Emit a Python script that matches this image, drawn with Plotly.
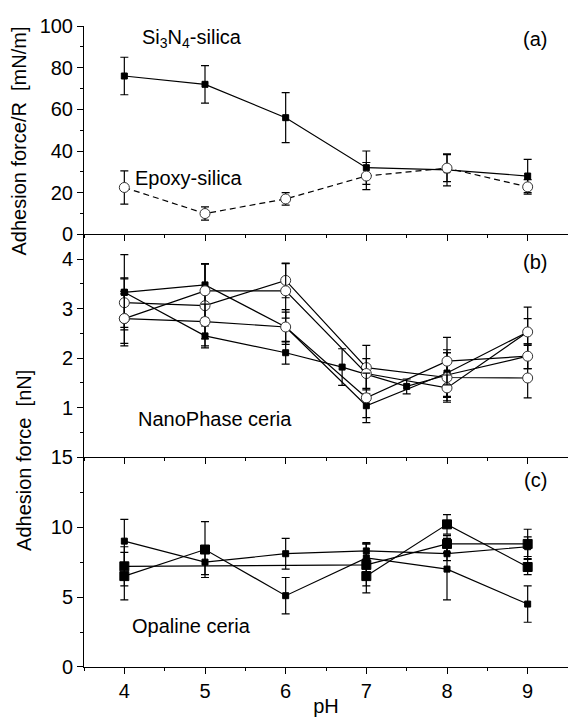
import plotly.graph_objects as go
from plotly.subplots import make_subplots

# ---------------- data ----------------
pH = [4, 5, 6, 7, 8, 9]

# panel (a)  Adhesion force/R [mN/m]
si3n4_silica = [76, 72, 56, 32, 31, 28]
si3n4_err = [9, 9, 12, 8, 7.7, 8]
epoxy_silica = [22.5, 10, 17, 28, 31.8, 22.8]
epoxy_err = [8, 3.2, 3, 6.5, 6.5, 3.5]

# panel (b)  NanoPhase ceria [nN]
nano_sq1 = [3.33, 3.48, 2.63, 1.04, 1.70, 2.53]
nano_sq1_err = [0.76, 0.42, 0.35, 0.24, 0.47, 0.27]
nano_sq2_pH = [4, 5, 6, 6.7, 7.5, 8, 9]
nano_sq2 = [3.33, 2.45, 2.11, 1.82, 1.43, 1.66, 2.04]
nano_sq2_err = [0.27, 0.20, 0.23, 0.37, 0.15, 0.45, 0.25]
nano_c1 = [3.12, 3.06, 3.57, 1.81, 1.61, 1.60]
nano_c1_err = [0.50, 0.85, 0.35, 0.45, 0.50, 0.40]
nano_c2 = [2.80, 3.36, 3.36, 1.69, 1.40, 2.53]
nano_c2_err = [0.55, 0.55, 0.55, 0.30, 0.26, 0.50]
nano_c3 = [2.80, 2.74, 2.63, 1.20, 1.94, 2.04]
nano_c3_err = [0.50, 0.35, 0.30, 0.50, 0.48, 0.25]

# panel (c)  Opaline ceria [nN]
opal_s1 = [9.0, 7.5, 8.1, 8.3, 8.1, 8.6]
opal_s1_err = [1.55, 0.9, 1.1, 0.6, 0.5, 0.7]
opal_s2 = [6.5, 8.4, 5.1, 7.8, 7.0, 4.5]
opal_s2_err = [1.7, 2.0, 1.3, 1.0, 2.2, 1.3]
opal_s3_pH = [4, 7, 8, 9]
opal_s3 = [7.2, 7.3, 8.8, 8.8]
opal_s3_err = [1.4, 1.5, 0.6, 1.05]
opal_s4_pH = [7, 8, 9]
opal_s4 = [6.5, 10.2, 7.15]
opal_s4_err = [1.2, 0.7, 0.55]

# ---------------- figure ----------------
FONT = "Arial, Liberation Sans, sans-serif"
FS = 20
fig = make_subplots(rows=3, cols=1, shared_xaxes=True, vertical_spacing=0,
                    row_heights=[208.6, 223.1, 210])


def add(x, y, err, row, symbol, size=6, dash="solid", fill="black", edge="black"):
    fig.add_trace(go.Scatter(
        x=x, y=y, mode="lines+markers",
        line=dict(color="black", width=1.2, dash=dash),
        marker=dict(symbol=symbol, size=size, color=fill, opacity=1,
                    line=dict(color=edge, width=1)),
        error_y=dict(type="data", array=err, visible=True, color="black",
                     thickness=1.2, width=4),
        showlegend=False), row=row, col=1)


# (a)
add(pH, si3n4_silica, si3n4_err, 1, "square", 6)
add(pH, epoxy_silica, epoxy_err, 1, "circle", 10, dash="6px,4px", fill="white", edge="#333")
# (b)
add(pH, nano_sq1, nano_sq1_err, 2, "square", 6)
add(nano_sq2_pH, nano_sq2, nano_sq2_err, 2, "square", 6)
add(pH, nano_c1, nano_c1_err, 2, "circle", 10, fill="white", edge="#333")
add(pH, nano_c2, nano_c2_err, 2, "circle", 10, fill="white", edge="#333")
add(pH, nano_c3, nano_c3_err, 2, "circle", 10, fill="white", edge="#333")
# (c)
add(pH, opal_s1, opal_s1_err, 3, "square", 6)
add(pH, opal_s2, opal_s2_err, 3, "square", [9, 9, 6, 6, 6, 6])
add(opal_s3_pH, opal_s3, opal_s3_err, 3, "square", 9)
add(opal_s4_pH, opal_s4, opal_s4_err, 3, "square", 9)

axis_common = dict(showline=True, linecolor="black", linewidth=1, ticks="outside",
                   ticklen=6, tickwidth=1, tickcolor="black", showgrid=False,
                   zeroline=False, mirror=False,
                   tickfont=dict(family=FONT, size=FS, color="black"))

for r in (1, 2, 3):
    fig.update_xaxes(range=[3.5, 9.5], tickmode="array", tickvals=pH,
                     minor=dict(tickmode="array", tickvals=[3.5, 4.5, 5.5, 6.5, 7.5, 8.5, 9.5],
                                ticklen=3, ticks="outside", tickcolor="black", showgrid=False),
                     row=r, col=1, **axis_common)
fig.update_xaxes(title=dict(text="pH", font=dict(family=FONT, size=FS, color="black"),
                            standoff=0), row=3, col=1)

fig.update_yaxes(range=[0, 100], tickmode="array", tickvals=[0, 20, 40, 60, 80, 100],
                 minor=dict(tickmode="array", tickvals=[10, 30, 50, 70, 90], ticklen=3,
                            ticks="outside", tickcolor="black", showgrid=False),
                 row=1, col=1, **axis_common)
fig.update_yaxes(range=[0, 4.5], tickmode="array", tickvals=[1, 2, 3, 4],
                 minor=dict(tickmode="array", tickvals=[0.5, 1.5, 2.5, 3.5], ticklen=3,
                            ticks="outside", tickcolor="black", showgrid=False),
                 row=2, col=1, **axis_common)
fig.update_yaxes(range=[0, 15], tickmode="array", tickvals=[0, 5, 10, 15],
                 minor=dict(tickmode="array", tickvals=[2.5, 7.5, 12.5], ticklen=3,
                            ticks="outside", tickcolor="black", showgrid=False),
                 row=3, col=1, **axis_common)

afont = dict(family=FONT, size=FS, color="black")
notes = [
    ("x", "y", 4.19, 94, "Si<sub>3</sub>N<sub>4</sub>-silica", "left"),
    ("x", "y", 9.26, 94, "(a)", "right"),
    ("x", "y", 4.11, 27, "Epoxy-silica", "left"),
    ("x2", "y2", 9.26, 3.95, "(b)", "right"),
    ("x2", "y2", 4.15, 0.78, "NanoPhase ceria", "left"),
    ("x3", "y3", 9.26, 13.4, "(c)", "right"),
    ("x3", "y3", 4.07, 2.9, "Opaline ceria", "left"),
]
for xr, yr, x, y, t, anc in notes:
    fig.add_annotation(xref=xr, yref=yr, x=x, y=y, text=t, showarrow=False,
                       xanchor=anc, yanchor="middle", font=afont)

fig.add_annotation(xref="paper", yref="paper", x=-0.134, y=0.82,
                   text="Adhesion force/R  [mN/m]", textangle=-90, showarrow=False,
                   xanchor="center", yanchor="middle", font=afont)
fig.add_annotation(xref="paper", yref="paper", x=-0.124, y=0.323,
                   text="Adhesion force  [nN]", textangle=-90, showarrow=False,
                   xanchor="center", yanchor="middle", font=afont)

fig.update_layout(width=568, height=717, margin=dict(l=84, r=0, t=26, b=50),
                  plot_bgcolor="white", paper_bgcolor="white",
                  font=dict(family=FONT, color="black"))

fig.write_html("out.html")
